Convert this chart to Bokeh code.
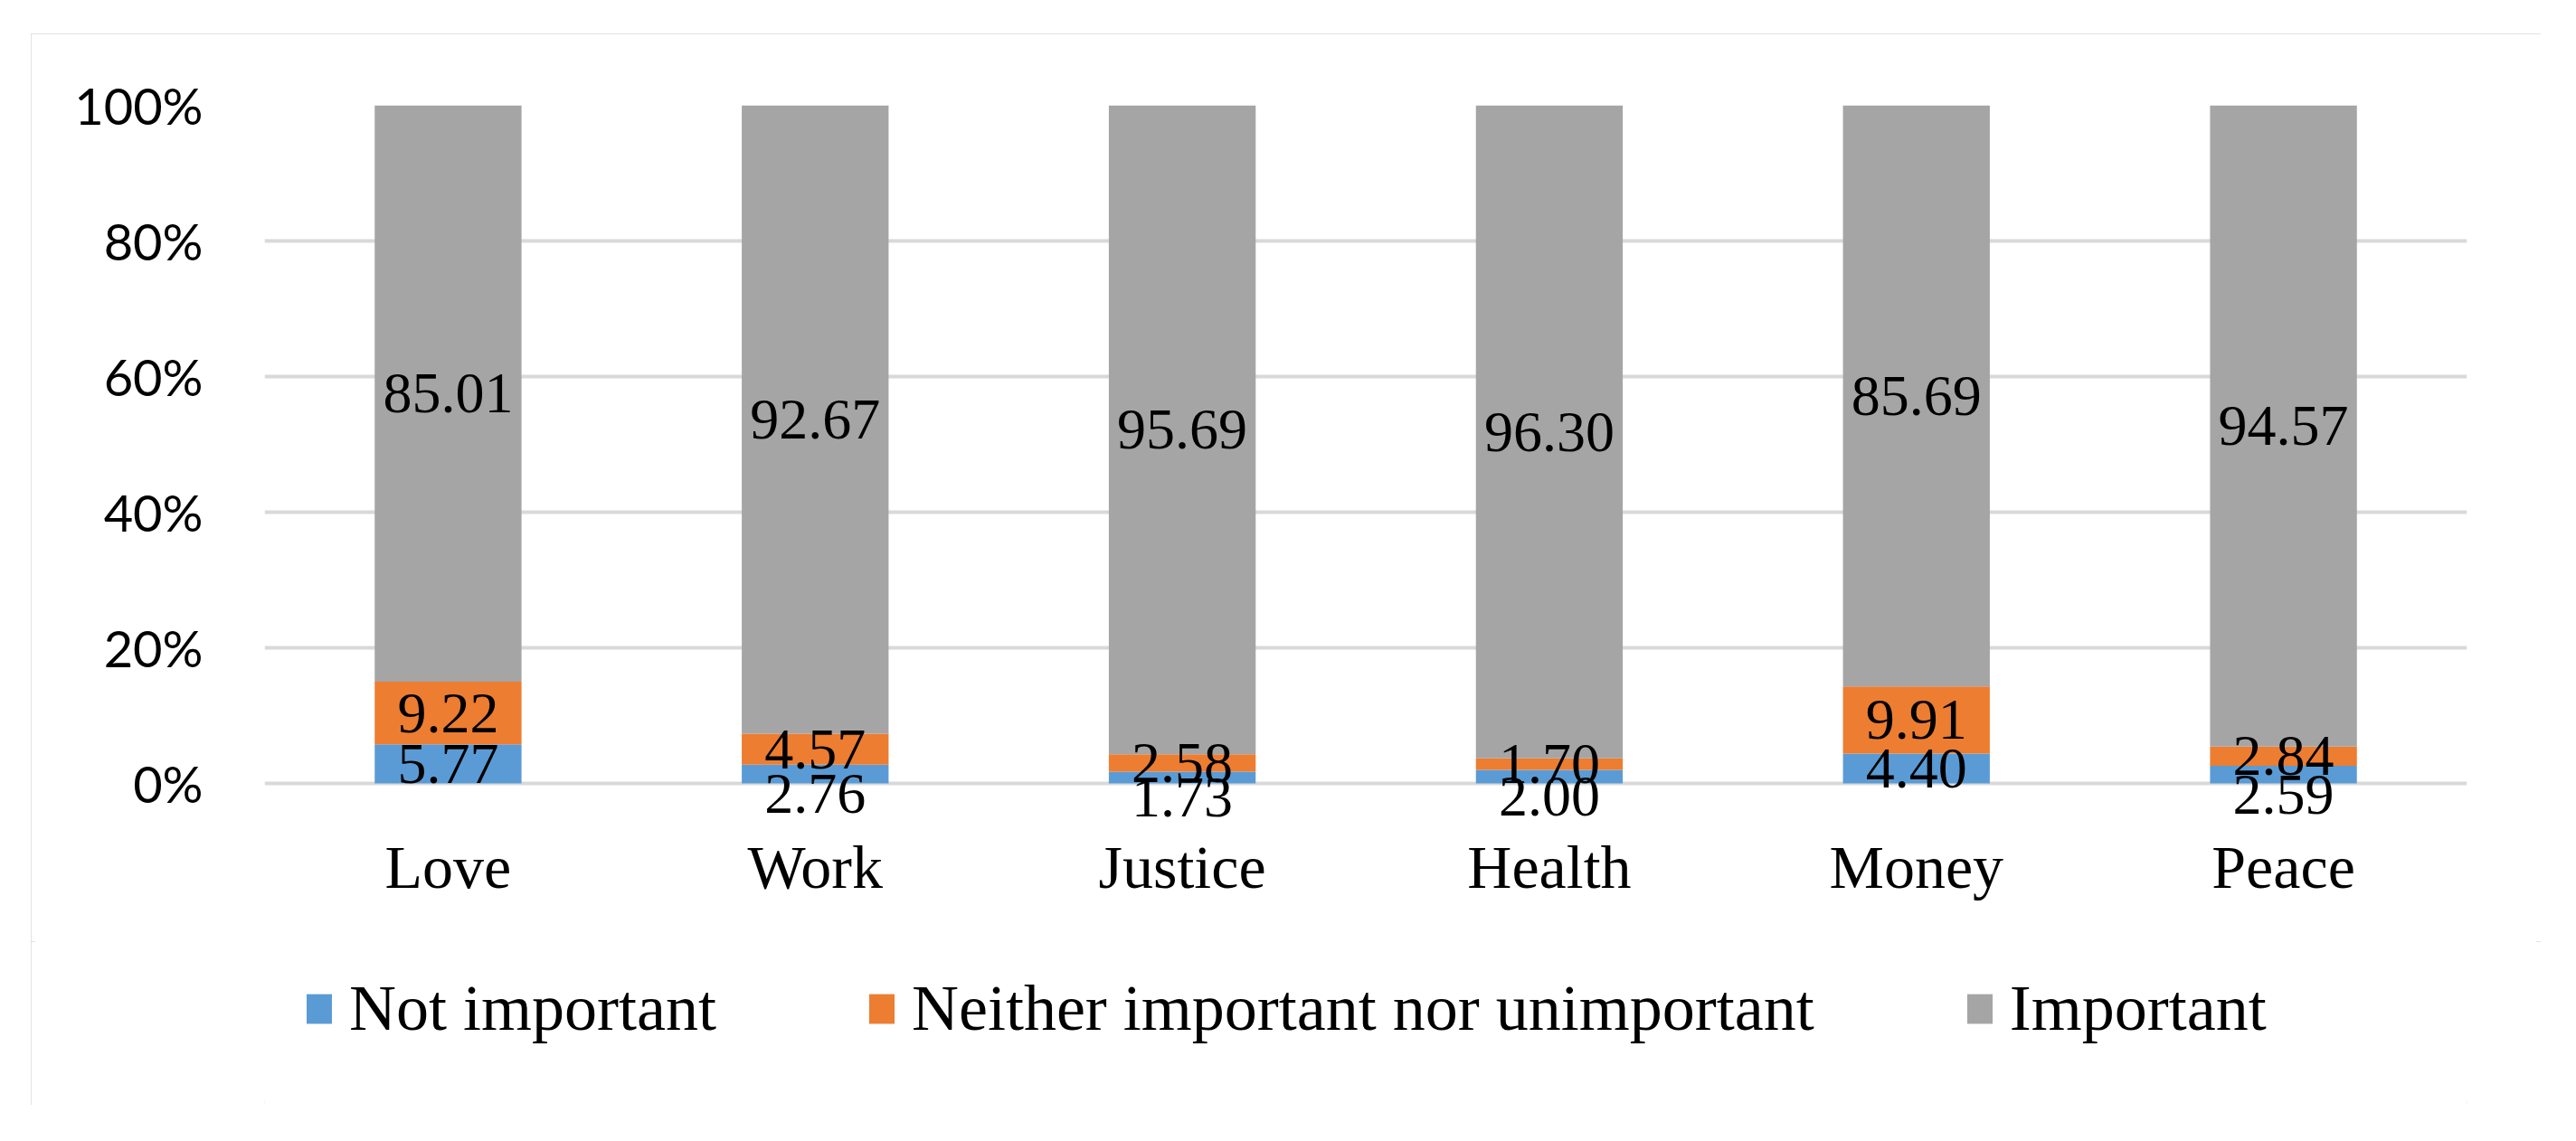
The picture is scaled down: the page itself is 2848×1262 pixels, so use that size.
from bokeh.plotting import figure
from bokeh.layouts import column
from bokeh.models import (ColumnDataSource, FixedTicker, PrintfTickFormatter, Legend, LegendItem,
                          Range1d, LabelSet)
from bokeh.embed import file_html
from bokeh.resources import INLINE
from bokeh.core.properties import value

# ---- data ----
categories = ["Love", "Work", "Justice", "Health", "Money", "Peace"]
not_important = [5.77, 2.76, 1.73, 2.00, 4.40, 2.59]
neither = [9.22, 4.57, 2.58, 1.70, 9.91, 2.84]
important = [85.01, 92.67, 95.69, 96.30, 85.69, 94.57]
series_names = ["Not important", "Neither important nor unimportant", "Important"]
series_keys = ["not_important", "neither", "important"]
colors = ["#5B9BD5", "#ED7D31", "#A5A5A5"]
y_ticks = [0, 20, 40, 60, 80, 100]

SERIF = "Liberation Serif"
SANS = "Lato"

src = ColumnDataSource(dict(categories=categories, not_important=not_important,
                            neither=neither, important=important))

# chart area box: page x 34..2809, y 37..1222  (2775 x 1185)
p = figure(
    x_range=categories, y_range=Range1d(-6, 100),
    frame_width=2435, frame_height=795,
    output_backend="svg", toolbar_location=None,
    min_border_left=258, min_border_right=82, min_border_top=79, min_border_bottom=130,
)
p.outline_line_color = None
p.background_fill_color = "white"
p.border_fill_color = "white"

p.vbar_stack(series_keys, x="categories", width=0.4, color=colors, line_color=None, source=src)

# data labels at segment centres
lab_x, lab_y, lab_t, lab_off = [], [], [], []
for i, c in enumerate(categories):
    base = 0.0
    for k, vals in enumerate([not_important, neither, important]):
        v = vals[i]
        lab_x.append(c)
        lab_y.append(base + v / 2)
        lab_t.append("%.2f" % v)
        lab_off.append(-22 if (k == 0 and v < 3.5) else 0)
        base += v
lsrc = ColumnDataSource(dict(x=lab_x, y=lab_y, t=lab_t, off=lab_off))
labels = LabelSet(x="x", y="y", text="t", y_offset="off", source=lsrc,
                  text_align="center", text_baseline="middle",
                  text_font=value(SERIF), text_font_size="64px", text_color="#000000")
p.add_layout(labels)

# axes
p.yaxis.ticker = FixedTicker(ticks=y_ticks)
p.yaxis.formatter = PrintfTickFormatter(format="%d%%")
p.yaxis.axis_line_color = None
p.yaxis.major_tick_line_color = None
p.yaxis.minor_tick_line_color = None
p.yaxis.major_label_text_font = SANS
p.yaxis.major_label_text_font_size = "56px"
p.yaxis.major_label_text_color = "#000000"
p.yaxis.major_label_standoff = 62

p.xaxis.axis_line_color = None
p.xaxis.major_tick_line_color = None
p.xaxis.major_label_text_font = SERIF
p.xaxis.major_label_text_font_size = "68px"
p.xaxis.major_label_text_color = "#000000"
p.xaxis.major_label_standoff = 3

p.xgrid.grid_line_color = None
p.ygrid.grid_line_color = "#D9D9D9"
p.ygrid.grid_line_width = 4

# legend strip below the plot; its stack is the same data, kept out of the visible y range
lf = figure(width=2775, frame_height=181, x_range=categories, y_range=Range1d(1000, 1001),
            x_axis_type=None, y_axis_type=None, output_backend="svg", toolbar_location=None,
            min_border_left=0, min_border_right=0, min_border_top=0, min_border_bottom=0)
lf.outline_line_color = None
lf.xgrid.visible = False
lf.ygrid.visible = False
lf.background_fill_color = "white"
lf.border_fill_color = "white"
swatches = lf.vbar_stack(series_keys, x="categories", width=0.4, color=colors,
                         line_color=None, source=src)
legend = Legend(items=[LegendItem(label=n, renderers=[r]) for n, r in zip(series_names, swatches)],
                orientation="horizontal", location=(43, 65),
                glyph_width=35, glyph_height=41, label_standoff=16, spacing=165,
                label_text_font=SERIF, label_text_font_size="72px", label_text_color="#000000",
                border_line_color=None, background_fill_alpha=0, margin=0, padding=10)
lf.add_layout(legend, "center")

layout = column(p, lf, spacing=0)
layout.margin = (37, 0, 0, 34)
layout.styles = {"outline": "5px solid #D9D9D9", "outline-offset": "-5px"}

open("out.html", "w").write(file_html(layout, INLINE))
